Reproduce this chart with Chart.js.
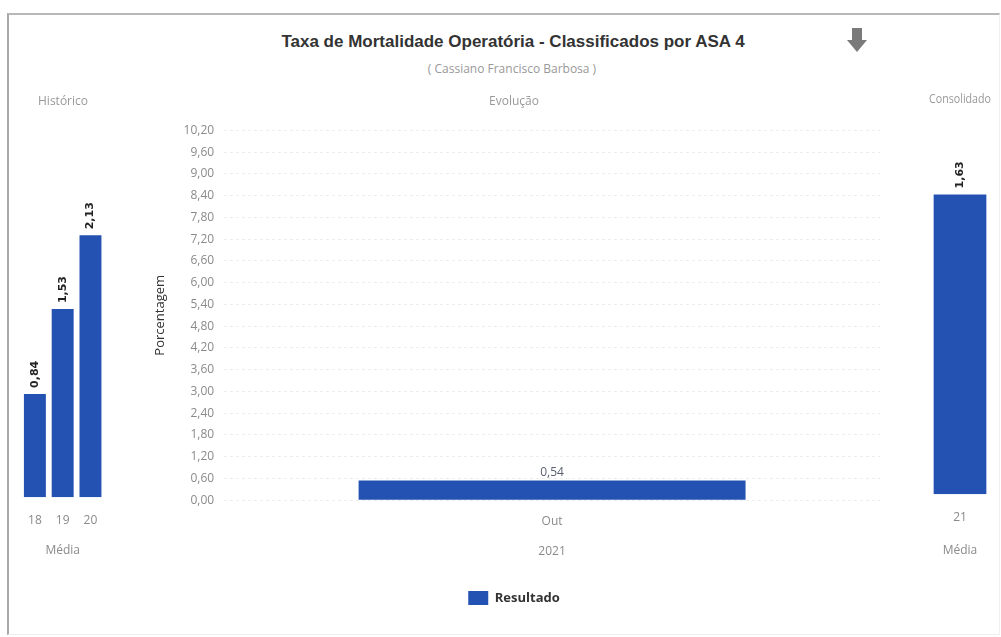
<!DOCTYPE html>
<html lang="pt">
  <head>
    <meta charset="UTF-8" />
    <title>Taxa de Mortalidade Operatória</title>
    <style>
      body {
        margin: 0;
        background: #fff;
        font-family: "Liberation Sans", Arial, sans-serif;
      }
      .frame {
        position: absolute;
        left: 7px;
        top: 13px;
        width: 990px;
        height: 619px;
        border-left: 2px solid #a8a8a8;
        border-top: 2px solid #b8b8b8;
        border-right: 1px solid #f0f0f0;
        border-bottom: 1px solid #eeeeee;
      }
      .title {
        position: absolute;
        left: 213px;
        top: 32px;
        width: 600px;
        text-align: center;
        font-weight: bold;
        font-size: 17px;
        color: #333;
      }
      .subtitle {
        position: absolute;
        left: 362px;
        top: 60px;
        width: 300px;
        text-align: center;
        font-family: "Open Sans", sans-serif;
        font-size: 12px;
        color: #999;
      }
      .arrow-stem {
        position: absolute;
        left: 852px;
        top: 28px;
        width: 10px;
        height: 13px;
        background: #7a7a7a;
      }
      .arrow-head {
        position: absolute;
        left: 847px;
        top: 40px;
        width: 0;
        height: 0;
        border-left: 10px solid transparent;
        border-right: 10px solid transparent;
        border-top: 12px solid #7a7a7a;
      }
      .box {
        position: absolute;
      }
    </style>
  </head>
  <body>
    <div class="frame"></div>
    <div class="title">Taxa de Mortalidade Operatória - Classificados por ASA 4</div>
    <div class="subtitle">( Cassiano Francisco Barbosa )</div>
    <div class="arrow-stem"></div>
    <div class="arrow-head"></div>

    <div class="box" style="left:10px;top:90px;width:105px;height:472px">
      <canvas id="historico"></canvas>
    </div>
    <div class="box" style="left:140px;top:90px;width:745px;height:525px">
      <canvas id="evolucao"></canvas>
    </div>
    <div class="box" style="left:925px;top:88px;width:74px;height:474px">
      <canvas id="consolidado"></canvas>
    </div>

    <script src="https://cdn.jsdelivr.net/npm/chart.js"></script>

    <script>
      // data
      const histLabels = ["18", "19", "20"];
      const histValues = [0.84, 1.53, 2.13];

      const evoLabels = ["Out"];
      const evoValues = [0.54];
      const evoYear = "2021";

      const consLabels = ["21"];
      const consValues = [1.63];

      const blue = "#2452b2";
      const grey = "#8a8a8a";
      const sectionFont = { family: "Open Sans", size: 12, weight: "normal" };

      function fmt(v) {
        return v.toFixed(2).replace(".", ",");
      }

      // writes the value above each bar, rotated for the side charts
      const valueLabels = {
        id: "valueLabels",
        afterDatasetsDraw(chart, args, opts) {
          const ctx = chart.ctx;
          const meta = chart.getDatasetMeta(0);
          const values = chart.data.datasets[0].data;
          ctx.save();
          ctx.font = opts.font;
          ctx.fillStyle = opts.color;
          meta.data.forEach((bar, i) => {
            const txt = fmt(values[i]);
            if (opts.rotate) {
              ctx.save();
              ctx.translate(bar.x, bar.y - 6);
              ctx.rotate(-Math.PI / 2);
              ctx.textAlign = "left";
              ctx.textBaseline = "middle";
              ctx.fillText(txt, 0, 0);
              ctx.restore();
            } else {
              ctx.textAlign = "center";
              ctx.textBaseline = "bottom";
              ctx.fillText(txt, bar.x, bar.y - 2);
            }
          });
          ctx.restore();
        },
      };

      function sideChart(id, labels, values, title, yMax, pad, barPct, titlePadTop) {
        return new Chart(document.getElementById(id).getContext("2d"), {
          type: "bar",
          data: {
            labels: labels,
            datasets: [
              {
                label: "Média",
                data: values,
                backgroundColor: blue,
                barPercentage: barPct,
                categoryPercentage: 1,
              },
            ],
          },
          options: {
            responsive: true,
            maintainAspectRatio: false,
            animation: false,
            layout: { padding: pad },
            plugins: {
              legend: { display: false },
              tooltip: { enabled: false },
              title: {
                display: true,
                text: title,
                color: "#999",
                font: sectionFont,
                padding: { top: 4, bottom: 20 },
              },
              valueLabels: {
                rotate: true,
                font: "bold 11px 'DejaVu Sans'",
                color: "#222",
              },
            },
            scales: {
              x: {
                grid: { display: false, drawTicks: false },
                border: { display: false },
                ticks: {
                  color: grey,
                  padding: 16,
                  font: { family: "Open Sans", size: 12 },
                },
                title: {
                  display: true,
                  text: "Média",
                  color: grey,
                  font: { family: "Open Sans", size: 12 },
                  padding: { top: titlePadTop, bottom: 4 },
                },
              },
              y: { display: false, min: 0, max: yMax },
            },
          },
          plugins: [valueLabels],
        });
      }

      sideChart("historico", histLabels, histValues, "Histórico", 3,
        { left: 11, right: 10 }, 0.79, 0);
      sideChart("consolidado", consLabels, consValues, "Consolidado", 2,
        { left: 4, right: 8 }, 0.85, 3);

      new Chart(document.getElementById("evolucao").getContext("2d"), {
        type: "bar",
        data: {
          labels: evoLabels,
          datasets: [
            {
              label: "Resultado",
              data: evoValues,
              backgroundColor: blue,
              barPercentage: 0.59,
              categoryPercentage: 1,
            },
          ],
        },
        options: {
          responsive: true,
          maintainAspectRatio: false,
          animation: false,
          layout: { padding: { left: 8, right: 5 } },
          plugins: {
            tooltip: { enabled: false },
            title: {
              display: true,
              text: "Evolução",
              color: "#999",
              font: sectionFont,
              padding: { top: 4, bottom: 22 },
            },
            legend: {
              position: "bottom",
              labels: {
                boxWidth: 20,
                boxHeight: 14,
                color: "#333",
                padding: 10,
                font: { family: "Open Sans", size: 13, weight: "bold" },
              },
            },
            valueLabels: {
              rotate: false,
              font: "12px 'Open Sans'",
              color: "#5a6070",
            },
          },
          scales: {
            x: {
              grid: { display: false, drawTicks: false },
              border: { display: false },
              ticks: {
                color: grey,
                padding: 14,
                font: { family: "Open Sans", size: 12 },
              },
              title: {
                display: true,
                text: evoYear,
                color: grey,
                font: { family: "Open Sans", size: 12 },
                padding: { top: 2, bottom: 22 },
              },
            },
            y: {
              min: 0,
              max: 10.2,
              grid: {
                color: "rgba(0,0,0,0.07)",
                drawTicks: false,
              },
              border: { display: false, dash: [3, 3] },
              ticks: {
                stepSize: 0.6,
                color: grey,
                padding: 10,
                font: { family: "Open Sans", size: 12 },
                callback: (v) => fmt(v),
              },
              title: {
                display: true,
                text: "Porcentagem",
                color: "#333",
                font: { family: "Open Sans", size: 13 },
                padding: { bottom: 6 },
              },
            },
          },
        },
        plugins: [valueLabels],
      });
    </script>
  </body>
</html>
